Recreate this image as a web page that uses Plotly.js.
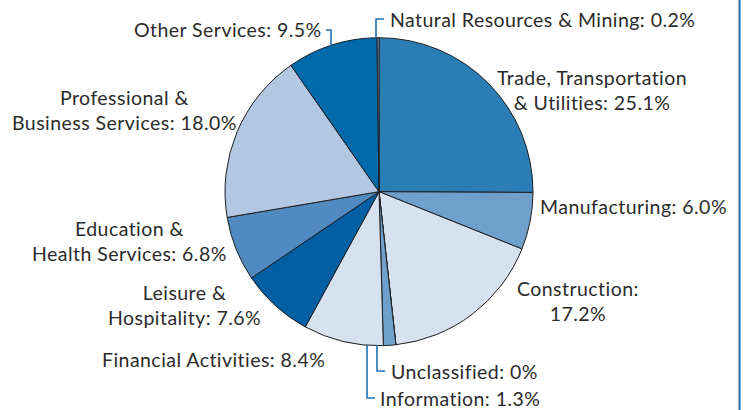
<!DOCTYPE html>
<html>
<head>
<meta charset="utf-8">
<script src="https://cdn.plot.ly/plotly-3.0.1.min.js"></script>
<style>
html,body{margin:0;padding:0;background:#fff;}
#chart{width:743px;height:410px;}
svg text{letter-spacing:0.45px;font-variant-ligatures:none;font-feature-settings:"liga" 0,"clig" 0;}
</style>
</head>
<body>
<div id="chart"></div>
<script>
// Data (clockwise from 12 o'clock)
const categories = [
  "Trade, Transportation & Utilities",
  "Manufacturing",
  "Construction",
  "Unclassified",
  "Information",
  "Financial Activities",
  "Leisure & Hospitality",
  "Education & Health Services",
  "Professional & Business Services",
  "Other Services",
  "Natural Resources & Mining"
];
const shares = [25.1, 6.0, 17.2, 0, 1.3, 8.4, 7.6, 6.8, 18.0, 9.5, 0.2];
const labelTexts = [
  "Trade, Transportation<br>& Utilities: 25.1%",
  "Manufacturing: 6.0%",
  "Construction:<br>17.2%",
  "Unclassified: 0%",
  "Information: 1.3%",
  "Financial Activities: 8.4%",
  "Leisure &<br>Hospitality: 7.6%",
  "Education &<br>Health Services: 6.8%",
  "Professional &<br>Business Services: 18.0%",
  "Other Services: 9.5%",
  "Natural Resources & Mining: 0.2%"
];
const sliceColors = [
  "rgb(43,125,182)", "rgb(111,160,204)", "rgb(214,226,240)", "rgb(111,160,204)",
  "rgb(111,160,204)", "rgb(214,226,240)", "rgb(0,96,163)", "rgb(80,138,193)",
  "rgb(177,199,227)", "rgb(0,106,172)", "rgb(140,176,216)"
];

const W = 743, H = 410;
const px = x => x / W;
const py = y => 1 - y / H;

// label placement (pixels): x, y, anchor, align
const labelPos = [
  [592, 90, "center", "center"],
  [538, 206, "left", "left"],
  [578, 301, "center", "center"],
  [389, 371, "left", "left"],
  [378, 398, "left", "left"],
  [327, 359, "right", "right"],
  [184, 305, "center", "center"],
  [129, 241, "center", "center"],
  [125, 110, "center", "center"],
  [324, 30, "right", "right"],
  [388, 19, "left", "left"]
];

const textFont = {family: "Lato, 'Liberation Sans', sans-serif", size: 19.5, color: "#2b2b2b"};

const annotations = labelTexts.map((t, i) => ({
  text: t,
  xref: "paper", yref: "paper",
  x: px(labelPos[i][0]), y: py(labelPos[i][1]),
  xanchor: labelPos[i][2], yanchor: "middle",
  align: labelPos[i][3],
  showarrow: false,
  font: textFont
}));

const leaderColor = "rgb(28,112,180)";
const leaders = [
  [[326,30],[331,30],[331,46]],
  [[384,19],[376,19],[376,38]],
  [[377,345],[377,371],[385,371]],
  [[367,345],[367,398],[375,398]]
];
const shapes = leaders.map(pts => ({
  type: "path", xref: "paper", yref: "paper",
  path: "M " + pts.map(p => px(p[0]) + "," + py(p[1])).join(" L "),
  line: {color: leaderColor, width: 1.6}
}));
// right frame line
shapes.push({type: "line", xref: "paper", yref: "paper",
  x0: px(739.5), x1: px(739.5), y0: 0, y1: 1,
  line: {color: "rgb(30,110,180)", width: 2}});

const trace = {
  type: "pie",
  labels: categories,
  values: shares,
  sort: false,
  direction: "clockwise",
  rotation: 0,
  textinfo: "none",
  hoverinfo: "label+value",
  marker: {colors: sliceColors, line: {color: "#1e1e1e", width: 1}},
  domain: {x: [px(225), px(533)], y: [py(345.7), py(37.7)]},
  showlegend: false
};

Plotly.newPlot("chart", [trace], {
  width: W, height: H,
  margin: {l: 0, r: 0, t: 0, b: 0},
  paper_bgcolor: "#ffffff",
  showlegend: false,
  annotations: annotations,
  shapes: shapes
}, {displayModeBar: false, staticPlot: true});
</script>
</body>
</html>
